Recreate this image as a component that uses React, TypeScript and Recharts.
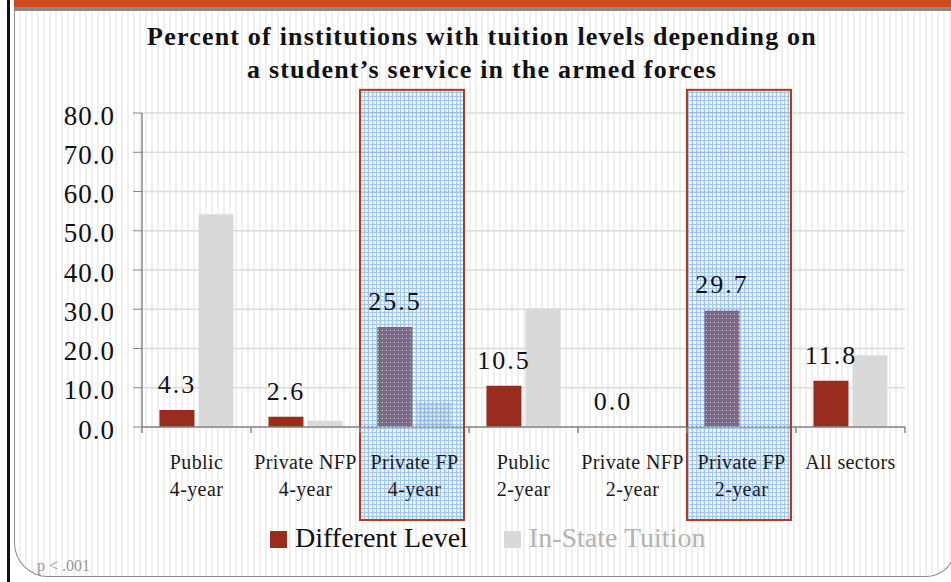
import { BarChart, Bar, XAxis, YAxis, CartesianGrid, LabelList, Legend, ReferenceArea } from 'recharts'

const categories = [
  'Public\n4-year',
  'Private NFP\n4-year',
  'Private FP\n4-year',
  'Public\n2-year',
  'Private NFP\n2-year',
  'Private FP\n2-year',
  'All sectors',
]
const differentLevel = [4.3, 2.6, 25.5, 10.5, 0.0, 29.7, 11.8]
const inStateTuition = [54.2, 1.6, 6.3, 30.2, 0.0, 0.0, 18.3]
const highlighted = ['Private FP\n4-year', 'Private FP\n2-year']
const yTicks = [0, 10, 20, 30, 40, 50, 60, 70, 80]

const titleLines = [
  'Percent of institutions with tuition levels depending on',
  'a student\u2019s service in the armed forces',
]

const SERIF = '"Liberation Serif", "Times New Roman", serif'
const RED = '#992b1f'
const GRAY = '#d9d9d9'
const AXIS = '#868686'

const rows = categories.map((c, i) => ({
  name: c,
  different: differentLevel[i],
  instate: inStateTuition[i],
}))

function XTick(props: any) {
  const { x, y, payload, index } = props
  const half = payload?.offset ?? 54.5
  const lines = String(payload.value).split('\n')
  return (
    <g>
      <line x1={x - half} x2={x - half} y1={y - 8} y2={y - 2} stroke={AXIS} strokeWidth={1.5} />
      {index === categories.length - 1 && (
        <line x1={x + half} x2={x + half} y1={y - 8} y2={y - 2} stroke={AXIS} strokeWidth={1.5} />
      )}
      <text x={x} y={y + 34} textAnchor="middle" fontFamily={SERIF} fontSize={20} letterSpacing={0.4} fill="#1a1a1a">
        {lines.map((l, i) => (
          <tspan key={i} x={x} dy={i === 0 ? 0 : 27}>{l}</tspan>
        ))}
      </text>
    </g>
  )
}

function ValueLabel(props: any) {
  const { x, y, width, value } = props
  return (
    <text
      x={x + width / 2}
      y={y - 17}
      textAnchor="middle"
      fontFamily={SERIF}
      fontSize={26}
      letterSpacing={2}
      fill="#111"
    >
      {Number(value).toFixed(1)}
    </text>
  )
}

function HighlightBox(props: any) {
  const { x, y, width, height } = props
  return (
    <rect
      x={x}
      y={y}
      width={width - 5}
      height={height}
      fill="url(#bluecheck)"
      stroke="#b23a1e"
      strokeWidth={2}
    />
  )
}

function LegendContent() {
  const item = (color: string, text: string, textColor: string) => (
    <div style={{ display: 'flex', alignItems: 'center', marginRight: 36 }}>
      <div style={{ width: 17, height: 17, background: color, marginRight: 8, marginTop: 2 }} />
      <span style={{ fontFamily: SERIF, fontSize: 28, color: textColor, lineHeight: '28px' }}>{text}</span>
    </div>
  )
  return (
    <div style={{ position: 'absolute', left: 270, top: 524, display: 'flex', whiteSpace: 'nowrap' }}>
      {item(RED, 'Different Level', '#111')}
      {item(GRAY, 'In-State Tuition', '#b3b3b3')}
    </div>
  )
}

export default function App() {
  return (
    <div style={{ position: 'absolute', left: 0, top: 0, width: 951, height: 582, overflow: 'hidden', background: '#fff' }}>
      <svg width={0} height={0} style={{ position: 'absolute' }}>
        <defs>
          <pattern id="bluecheck" width={4} height={4} patternUnits="userSpaceOnUse">
            <rect width={4} height={4} fill="#a9cff2" fillOpacity={0.28} />
            <rect width={4} height={1} fill="#4a8fd6" fillOpacity={0.42} />
            <rect y={1} width={1} height={3} fill="#4a8fd6" fillOpacity={0.42} />
            <rect x={2} y={2} width={1} height={1} fill="#ffffff" fillOpacity={0.85} />
          </pattern>
        </defs>
      </svg>

      {/* slide frame */}
      <div style={{ position: 'absolute', left: 7, top: 0, width: 3, height: 582, background: '#111' }} />
      <div style={{ position: 'absolute', left: 14, top: 0, right: 0, height: 7, background: '#d3491b' }} />
      <div style={{ position: 'absolute', left: 14, top: 7, right: 0, height: 4, background: '#8f8686' }} />
      <div
        style={{
          position: 'absolute',
          left: 14,
          top: 11,
          width: 940,
          height: 565,
          borderLeft: '1px solid #8a8a8a',
          borderRight: '1px solid #8a8a8a',
          borderBottom: '1px solid #8a8a8a',
          borderBottomLeftRadius: 34,
          borderBottomRightRadius: 30,
          background: 'repeating-linear-gradient(to right, #ffffff 0px, #ffffff 4px, #f0f0f0 4px, #f0f0f0 6px)',
        }}
      />

      <div
        style={{
          position: 'absolute',
          left: 0,
          top: 20,
          width: 964,
          textAlign: 'center',
          fontFamily: SERIF,
          fontWeight: 'bold',
          fontSize: 26,
          letterSpacing: 1.2,
          lineHeight: '33px',
          color: '#111',
        }}
      >
        {titleLines.map((t) => (
          <div key={t}>{t}</div>
        ))}
      </div>

      <div style={{ position: 'absolute', left: 37, top: 557, fontFamily: SERIF, fontSize: 16, color: '#9a9a9a' }}>
        p &lt; .001
      </div>

      <div style={{ position: 'absolute', left: 0, top: 0 }}>
        <BarChart
          width={951}
          height={582}
          data={rows}
          margin={{ top: 113, right: 46, bottom: 85, left: 0 }}
          barCategoryGap="16%"
          barGap={4}
        >
          <CartesianGrid vertical={false} stroke="#dcdcdc" strokeWidth={1.5} />
          <XAxis
            dataKey="name"
            interval={0}
            height={70}
            tickLine={false}
            axisLine={{ stroke: AXIS, strokeWidth: 1.5 }}
            tick={<XTick />}
          />
          <YAxis
            width={142}
            domain={[0, 80]}
            ticks={yTicks}
            interval={0}
            tickFormatter={(v: number) => v.toFixed(1)}
            tickSize={9}
            tickMargin={18}
            tickLine={{ stroke: AXIS }}
            axisLine={{ stroke: AXIS, strokeWidth: 1.5 }}
            tick={{ fontFamily: SERIF, fontSize: 27, fill: '#111', dy: 2, letterSpacing: 1 }}
          />
          <Bar
            dataKey="different"
            fill={RED}
            isAnimationActive={false}
            minPointSize={(v: number) => (v === 0 ? 0.01 : 0)}
          >
            <LabelList dataKey="different" content={<ValueLabel />} />
          </Bar>
          <Bar dataKey="instate" fill={GRAY} isAnimationActive={false} />
          {highlighted.map((c) => (
            <ReferenceArea
              key={c}
              x1={c}
              x2={c}
              y1={-23.7}
              y2={85.9}
              ifOverflow="visible"
              shape={<HighlightBox />}
              zIndex={1500}
            />
          ))}
          <Legend content={<LegendContent />} wrapperStyle={{ left: 0, top: 0, width: 0, height: 0 }} />
        </BarChart>
      </div>
    </div>
  )
}
